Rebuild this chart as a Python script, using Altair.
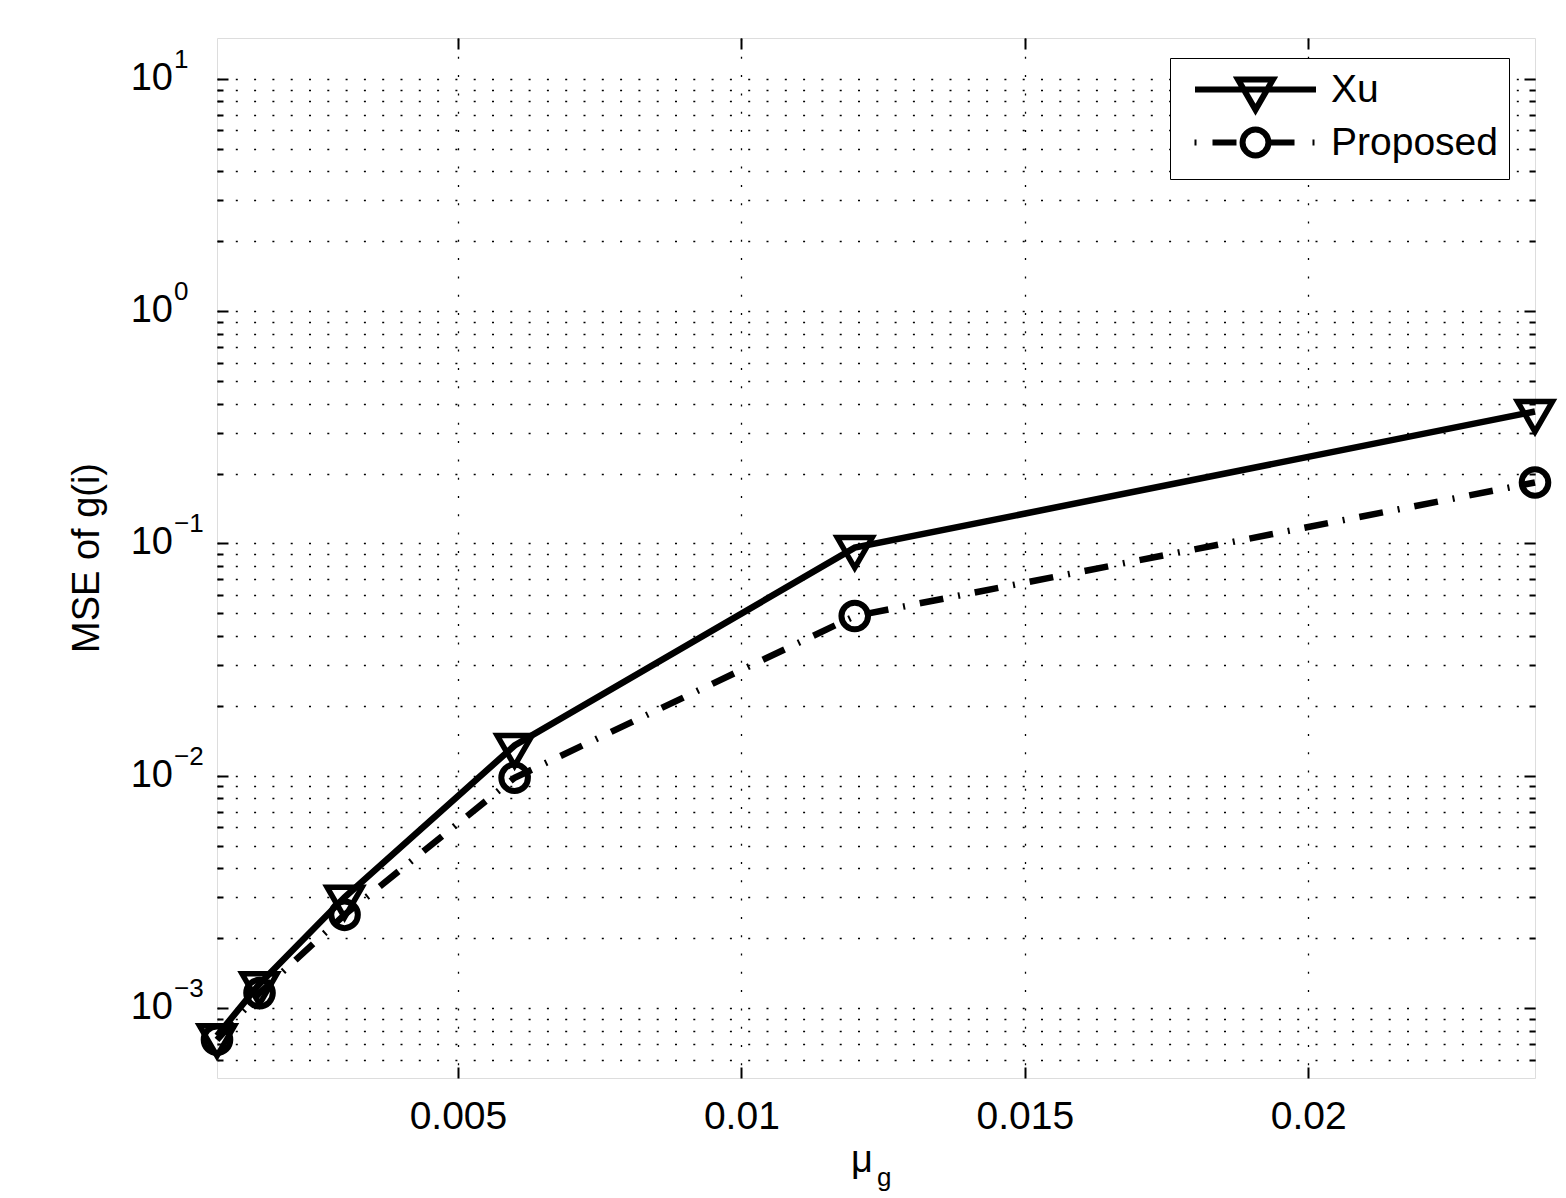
import altair as alt
import pandas as pd

FONT = "Liberation Sans"

# ---- data ----
mu = [0.00075, 0.0015, 0.003, 0.006, 0.012, 0.024]
mse_xu = [7.6e-4, 1.27e-3, 3.0e-3, 1.35e-2, 0.096, 0.37]
mse_proposed = [7.3e-4, 1.16e-3, 2.52e-3, 9.8e-3, 0.0487, 0.183]
series = ["Xu", "Proposed"]

x_ticks = [0.005, 0.01, 0.015, 0.02]
y_major = [1e-3, 1e-2, 1e-1, 1.0, 10.0]
y_exp = ["\u22123", "\u22122", "\u22121", "0", "1"]
y_minor = [m * 10.0 ** e for e in range(-4, 1) for m in range(2, 10) if 5e-4 < m * 10.0 ** e < 15]

W, H = 1318, 1040

df = pd.DataFrame({
    "mu": mu + mu,
    "mse": mse_xu + mse_proposed,
    "series": ["Xu"] * len(mu) + ["Proposed"] * len(mu),
})
ylab = pd.DataFrame({"v": y_major, "e": y_exp})

xs = alt.Scale(domain=[0.00075, 0.024], nice=False, zero=False)
ys = alt.Scale(type="log", domain=[5e-4, 15], nice=False)

DOT = [2, 16.3]

# symbol paths (centroid-centred triangle, circle)
TRI = "M-1,-0.577L1,-0.577L0,1.155Z"
CIRC = "M-0.76,0A0.76,0.76,0,1,1,0.76,0A0.76,0.76,0,1,1,-0.76,0Z"
LEG_XU = "M-3.457,0L3.457,0M-1,-0.577L1,-0.577L0,1.155Z"
LEG_PR = ("M-3.486,0L-3.371,0M-2.457,0L-1.086,0"
          "M-0.74,0A0.74,0.74,0,1,1,0.74,0A0.74,0.74,0,1,1,-0.74,0Z"
          "M0.743,0L2.229,0M3.257,0L3.371,0")

def grid_axis(orient, values):
    return alt.Axis(orient=orient, values=values, grid=True, gridDash=DOT, gridColor="black",
                    gridWidth=1.3, gridOpacity=1, ticks=False, labels=False, domain=False, title=None)

def tick_axis(orient, values, size, labels=False):
    kw = dict(orient=orient, values=values, offset=-size, tickSize=size, tickWidth=2,
              tickColor="black", grid=False, domain=False, labels=labels, title=None)
    if labels:
        kw.update(labelFont=FONT, labelFontSize=39, labelColor="black", labelPadding=19,
                  format=".3~f", labelFlush=False, labelOverlap=False)
    return alt.Axis(**kw)

base = alt.Chart(df)

line_xu = base.transform_filter("datum.series == 'Xu'").mark_line(
    color="black", strokeWidth=6.5
).encode(
    x=alt.X("mu:Q", scale=xs, axis=grid_axis("bottom", x_ticks)),
    y=alt.Y("mse:Q", scale=ys, axis=grid_axis("left", y_major + y_minor)),
)

line_pr = base.transform_filter("datum.series == 'Proposed'").mark_line(
    color="black", strokeWidth=6.5, strokeDash=[24, 15, 2, 15]
).encode(
    x=alt.X("mu:Q", scale=xs, axis=tick_axis("bottom", x_ticks, 11, labels=True)),
    y=alt.Y("mse:Q", scale=ys, axis=tick_axis("left", y_major, 11)),
)

pts_xu = base.transform_filter("datum.series == 'Xu'").mark_point(
    shape=TRI, size=1225, filled=False, color="black", strokeWidth=5.5, opacity=1
).encode(
    x=alt.X("mu:Q", scale=xs, axis=tick_axis("top", x_ticks, 11)),
    y=alt.Y("mse:Q", scale=ys, axis=tick_axis("right", y_major, 11)),
)

pts_pr = base.transform_filter("datum.series == 'Proposed'").mark_point(
    shape=CIRC, size=1225, filled=False, color="black", strokeWidth=6, opacity=1
).encode(
    x=alt.X("mu:Q", scale=xs, axis=None),
    y=alt.Y("mse:Q", scale=ys, axis=tick_axis("left", y_minor, 6)),
)

ten = alt.Chart(ylab).mark_text(
    align="right", baseline="middle", font=FONT, fontSize=38, color="black"
).encode(
    x=alt.value(-44),
    y=alt.Y("v:Q", scale=ys, axis=tick_axis("right", y_minor, 6)),
    text=alt.value("10"),
)

expo = alt.Chart(ylab).mark_text(
    align="left", baseline="middle", font=FONT, fontSize=26, color="black", dy=-19
).encode(
    x=alt.value(-43),
    y=alt.Y("v:Q", scale=ys, axis=None),
    text="e:N",
)

ytitle = alt.Chart(pd.DataFrame({"t": ["MSE of g(i)"]})).mark_text(
    angle=270, align="center", baseline="middle", font=FONT, fontSize=38, color="black"
).encode(x=alt.value(-129), y=alt.value(H / 2), text="t:N")

xtitle = alt.Chart(pd.DataFrame({"t": ["\u03bc"]})).mark_text(
    align="center", baseline="alphabetic", font=FONT, fontSize=38, color="black"
).encode(x=alt.value(645), y=alt.value(1134), text="t:N")

xsub = alt.Chart(pd.DataFrame({"t": ["g"]})).mark_text(
    align="left", baseline="alphabetic", font=FONT, fontSize=26, color="black"
).encode(x=alt.value(660), y=alt.value(1148), text="t:N")

legend_layer = base.mark_point(filled=False, opacity=0, color="black").encode(
    x=alt.X("mu:Q", scale=xs, axis=None),
    y=alt.Y("mse:Q", scale=ys, axis=None),
    shape=alt.Shape(
        "series:N",
        scale=alt.Scale(domain=series, range=[LEG_XU, LEG_PR]),
        legend=alt.Legend(
            title=None, orient="none", legendX=953, legendY=20, direction="vertical",
            symbolSize=1225, symbolStrokeWidth=6, symbolStrokeColor="black", symbolOpacity=1,
            symbolOffset=54,
            labelFont=FONT, labelFontSize=39, labelColor="black", labelOffset=55, labelLimit=400,
            padding=11, rowPadding=-11, strokeColor="black", fillColor="white",
        ),
    ),
)

chart = alt.layer(
    line_xu, line_pr, pts_xu, pts_pr, ten, expo, ytitle, xtitle, xsub, legend_layer
).resolve_axis(
    x="independent", y="independent"
).properties(
    width=W, height=H,
    autosize=alt.AutoSizeParams(type="none"),
    padding={"left": 209, "top": 30, "right": 23, "bottom": 120},
).configure_view(
    stroke="black", strokeWidth=2
).configure_legend(
    strokeWidth=2
).configure(
    background="white"
)

chart.save("out.html", embed_options={"renderer": "svg", "actions": False})
